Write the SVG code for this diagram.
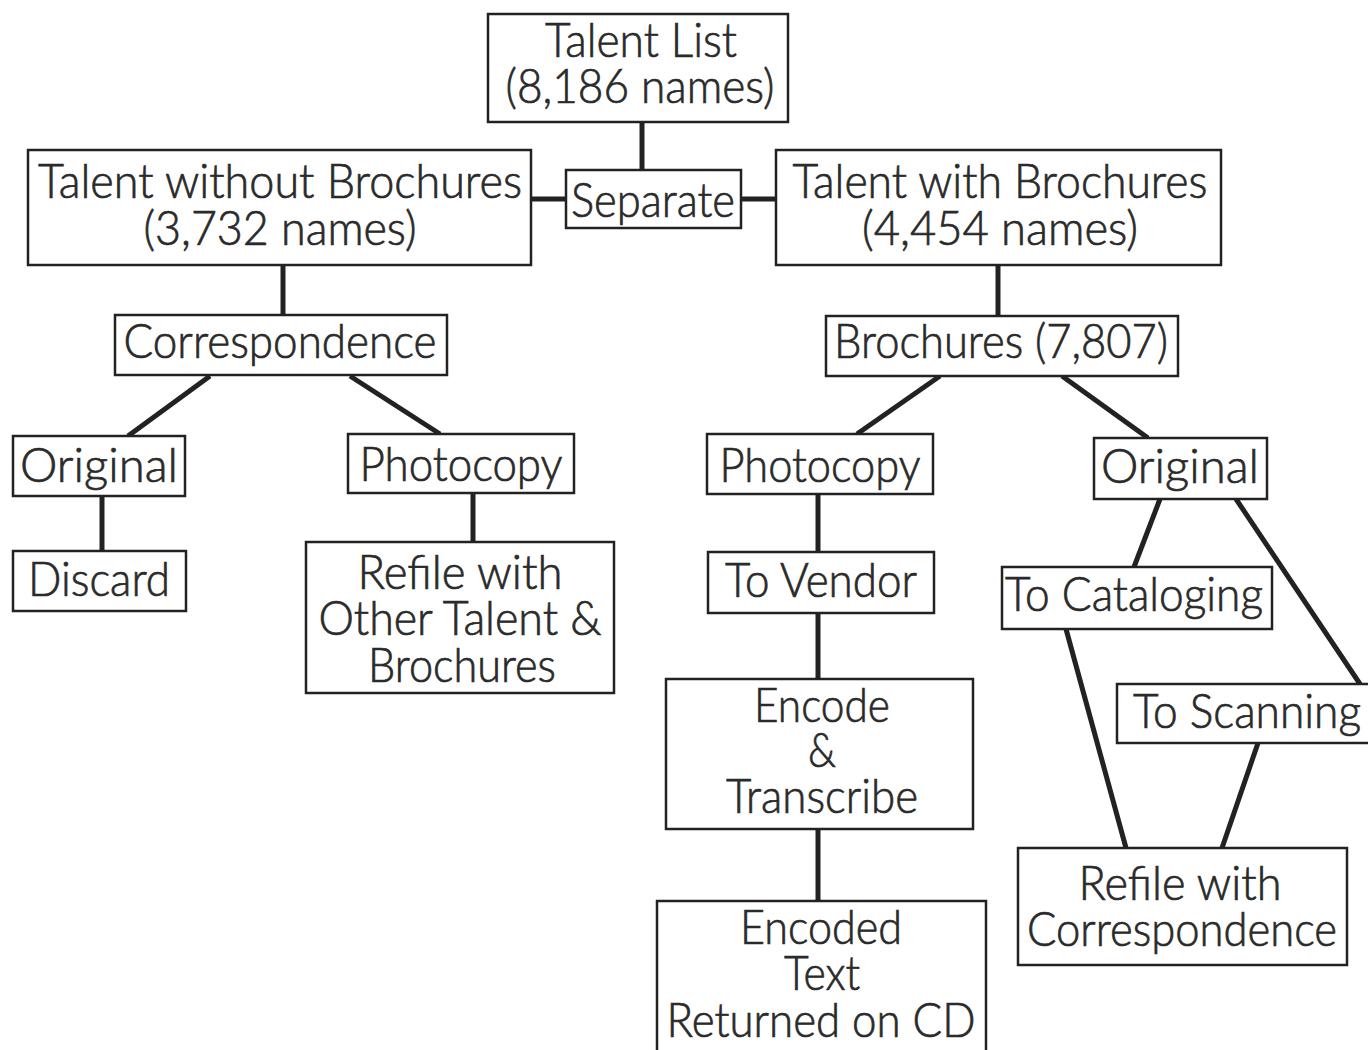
<svg xmlns="http://www.w3.org/2000/svg" width="1368" height="1050" viewBox="0 0 1368 1050">
<style>
.box{fill:#fff;stroke:#222;stroke-width:2.5}
.t{font-family:Lato,"Noto Sans","Liberation Sans",sans-serif;font-size:47px;font-weight:300;fill:#2a2a2a;stroke:#2a2a2a;stroke-width:0.7;text-anchor:middle}
.c{stroke:#222;stroke-width:5;fill:none}
</style>
<rect width="1368" height="1050" fill="#fff"/>
<g id="connectors">
<line class="c" x1="642" y1="122" x2="642" y2="170"/>
<line class="c" x1="531" y1="199" x2="566" y2="199"/>
<line class="c" x1="741" y1="199" x2="776" y2="199"/>
<line class="c" x1="283" y1="265" x2="283" y2="315"/>
<line class="c" x1="998" y1="265" x2="998" y2="316"/>
<line class="c" x1="210" y1="376" x2="128" y2="436"/>
<line class="c" x1="350" y1="376" x2="440" y2="434"/>
<line class="c" x1="102" y1="496" x2="102" y2="551"/>
<line class="c" x1="473" y1="493" x2="473" y2="542"/>
<line class="c" x1="940" y1="376" x2="857" y2="434"/>
<line class="c" x1="1062" y1="376" x2="1148" y2="438"/>
<line class="c" x1="818" y1="494" x2="818" y2="552"/>
<line class="c" x1="818" y1="613" x2="818" y2="679"/>
<line class="c" x1="818" y1="829" x2="818" y2="901"/>
<line class="c" x1="1160" y1="499" x2="1134" y2="567"/>
<line class="c" x1="1236" y1="499" x2="1360" y2="684"/>
<line class="c" x1="1066" y1="629" x2="1126" y2="848"/>
<line class="c" x1="1258" y1="743" x2="1222" y2="848"/>
</g>
<g id="talent-list"><rect class="box" x="488" y="14" width="300" height="108"/><text class="t" x="641" y="57" textLength="192" lengthAdjust="spacingAndGlyphs">Talent List</text><text class="t" x="640" y="103" textLength="269" lengthAdjust="spacingAndGlyphs">(8,186 names)</text></g>
<g id="without"><rect class="box" x="28" y="150" width="503" height="115"/><text class="t" x="280" y="198" textLength="484" lengthAdjust="spacingAndGlyphs">Talent without Brochures</text><text class="t" x="280" y="245" textLength="273" lengthAdjust="spacingAndGlyphs">(3,732 names)</text></g>
<g id="separate"><rect class="box" x="566" y="170" width="175" height="58"/><text class="t" x="653" y="217" textLength="164" lengthAdjust="spacingAndGlyphs">Separate</text></g>
<g id="with"><rect class="box" x="776" y="150" width="445" height="115"/><text class="t" x="1000" y="198" textLength="415" lengthAdjust="spacingAndGlyphs">Talent with Brochures</text><text class="t" x="1000" y="245" textLength="276" lengthAdjust="spacingAndGlyphs">(4,454 names)</text></g>
<g id="correspondence"><rect class="box" x="115" y="315" width="332" height="60"/><text class="t" x="280" y="358" textLength="313" lengthAdjust="spacingAndGlyphs">Correspondence</text></g>
<g id="brochures"><rect class="box" x="826" y="316" width="352" height="60"/><text class="t" x="1001" y="358" textLength="334" lengthAdjust="spacingAndGlyphs">Brochures (7,807)</text></g>
<g id="original-left"><rect class="box" x="13" y="436" width="172" height="60"/><text class="t" x="99" y="482" textLength="158" lengthAdjust="spacingAndGlyphs">Original</text></g>
<g id="photocopy-left"><rect class="box" x="348" y="434" width="226" height="59"/><text class="t" x="461" y="481" textLength="203" lengthAdjust="spacingAndGlyphs">Photocopy</text></g>
<g id="discard"><rect class="box" x="13" y="551" width="173" height="60"/><text class="t" x="99" y="596" textLength="142" lengthAdjust="spacingAndGlyphs">Discard</text></g>
<g id="refile-other"><rect class="box" x="306" y="542" width="308" height="151"/><text class="t" x="460" y="589" textLength="205" lengthAdjust="spacingAndGlyphs">Refile with</text><text class="t" x="460" y="635" textLength="283" lengthAdjust="spacingAndGlyphs">Other Talent &amp;</text><text class="t" x="462" y="682" textLength="188" lengthAdjust="spacingAndGlyphs">Brochures</text></g>
<g id="photocopy-right"><rect class="box" x="707" y="434" width="226" height="60"/><text class="t" x="820" y="482" textLength="201" lengthAdjust="spacingAndGlyphs">Photocopy</text></g>
<g id="to-vendor"><rect class="box" x="708" y="552" width="226" height="61"/><text class="t" x="821" y="597" textLength="192" lengthAdjust="spacingAndGlyphs">To Vendor</text></g>
<g id="encode"><rect class="box" x="666" y="679" width="307" height="150"/><text class="t" x="822" y="722" textLength="136" lengthAdjust="spacingAndGlyphs">Encode</text><text class="t" x="822" y="767" textLength="28" lengthAdjust="spacingAndGlyphs">&amp;</text><text class="t" x="822" y="813" textLength="192" lengthAdjust="spacingAndGlyphs">Transcribe</text></g>
<g id="encoded-text"><rect class="box" x="657" y="901" width="329" height="160"/><text class="t" x="821" y="944" textLength="162" lengthAdjust="spacingAndGlyphs">Encoded</text><text class="t" x="822" y="990" textLength="76" lengthAdjust="spacingAndGlyphs">Text</text><text class="t" x="821" y="1037" textLength="309" lengthAdjust="spacingAndGlyphs">Returned on CD</text></g>
<g id="original-right"><rect class="box" x="1094" y="438" width="173" height="61"/><text class="t" x="1180" y="483" textLength="158" lengthAdjust="spacingAndGlyphs">Original</text></g>
<g id="to-cataloging"><rect class="box" x="1002" y="567" width="270" height="62"/><text class="t" x="1134" y="611" textLength="258" lengthAdjust="spacingAndGlyphs">To Cataloging</text></g>
<g id="to-scanning"><rect class="box" x="1117" y="684" width="253" height="59"/><text class="t" x="1247" y="728" textLength="228" lengthAdjust="spacingAndGlyphs">To Scanning</text></g>
<g id="refile-corr"><rect class="box" x="1018" y="848" width="329" height="117"/><text class="t" x="1180" y="900" textLength="203" lengthAdjust="spacingAndGlyphs">Refile with</text><text class="t" x="1182" y="946" textLength="310" lengthAdjust="spacingAndGlyphs">Correspondence</text></g>
</svg>
